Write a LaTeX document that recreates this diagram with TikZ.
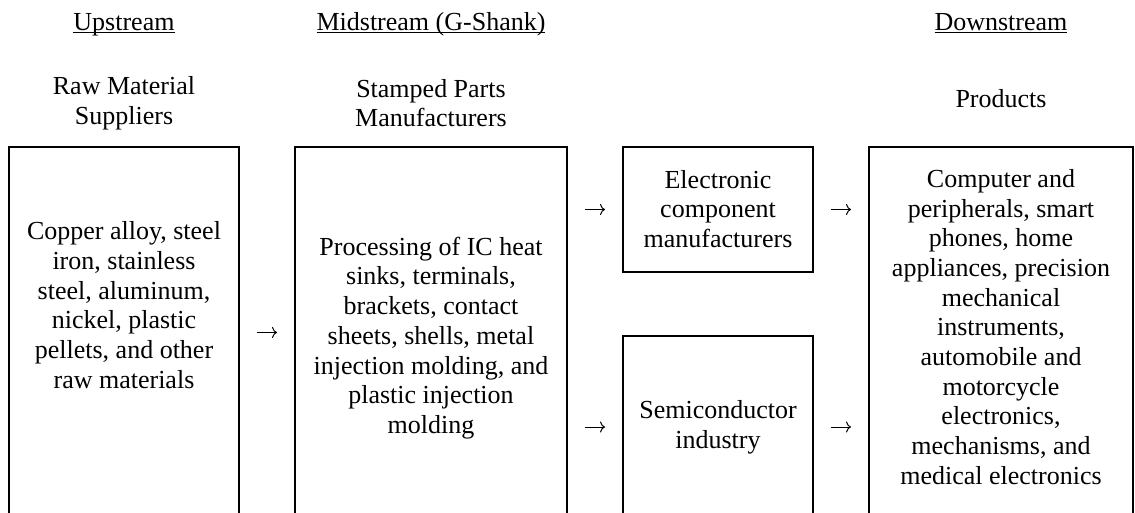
\documentclass[tikz,border=0pt]{standalone}
\usepackage{fontspec}
\setmainfont{Liberation Serif}
\usetikzlibrary{arrows.meta}
\newsavebox\ulbox
\newcommand\hdrul[1]{\sbox\ulbox{#1}\rlap{\rule[-2.6pt]{\wd\ulbox}{1.5pt}}\usebox\ulbox}
\begin{document}
\begin{tikzpicture}[x=1pt,y=-1pt,
  txt/.style={align=center, inner sep=0pt, font=\fontsize{26}{29.7}\selectfont},
  boxnode/.style={draw, line width=2pt, inner sep=0pt},
  arr/.style={-{To[length=5pt,width=11pt]}, line width=1pt, shorten <=17pt, shorten >=17pt}]
\useasboundingbox (0,0) rectangle (1135,513);
\clip (0,0) rectangle (1135,513);
% headers
\node[txt, anchor=base] (h1) at (124,30.7) {\hdrul{Upstream}};
\node[txt, anchor=base] (h2) at (431,30.7) {\hdrul{Midstream (G-Shank)}};
\node[txt, anchor=base] (h3) at (1001,30.7) {\hdrul{Downstream}};
\node[txt] (s1) at (124,103) {Raw Material\\Suppliers};
\node[txt] (s2) at (431,103) {Stamped Parts\\Manufacturers};
\node[txt, anchor=base] (s5) at (1001,107.3) {Products};
% boxes
\node[boxnode, minimum width=230pt, minimum height=371pt] (b1) at (124,332.5) {};
\node[boxnode, minimum width=272pt, minimum height=371pt] (b2) at (431,332.5) {};
\node[boxnode, minimum width=190pt, minimum height=125pt] (b3) at (718,209.5) {};
\node[boxnode, minimum width=190pt, minimum height=182pt] (b4) at (718,427) {};
\node[boxnode, minimum width=264pt, minimum height=371pt] (b5) at (1001,332.5) {};
% box texts
\node[txt] (t1) at (124,305) {Copper alloy, steel\\iron, stainless\\steel, aluminum,\\nickel, plastic\\pellets, and other\\raw materials};
\node[txt] (t2) at (431,338) {Processing of IC heat\\sinks, terminals,\\brackets, contact\\sheets, shells, metal\\injection molding, and\\plastic injection\\molding};
\node[txt] (t3) at (718,209) {Electronic\\component\\manufacturers};
\node[txt] (t4) at (718,427.5) {Semiconductor\\industry};
\node[txt] (t5) at (1001,327) {Computer and\\peripherals, smart\\phones, home\\appliances, precision\\mechanical\\instruments,\\automobile and\\motorcycle\\electronics,\\mechanisms, and\\medical electronics};
% arrows
\draw[arr] (b1.east) -- (b2.west);
\draw[arr] (b2.east |- b3.west) -- (b3.west);
\draw[arr] (b2.east |- b4.west) -- (b4.west);
\draw[arr] (b3.east) -- (b5.west |- b3.east);
\draw[arr] (b4.east) -- (b5.west |- b4.east);
\end{tikzpicture}
\end{document}
